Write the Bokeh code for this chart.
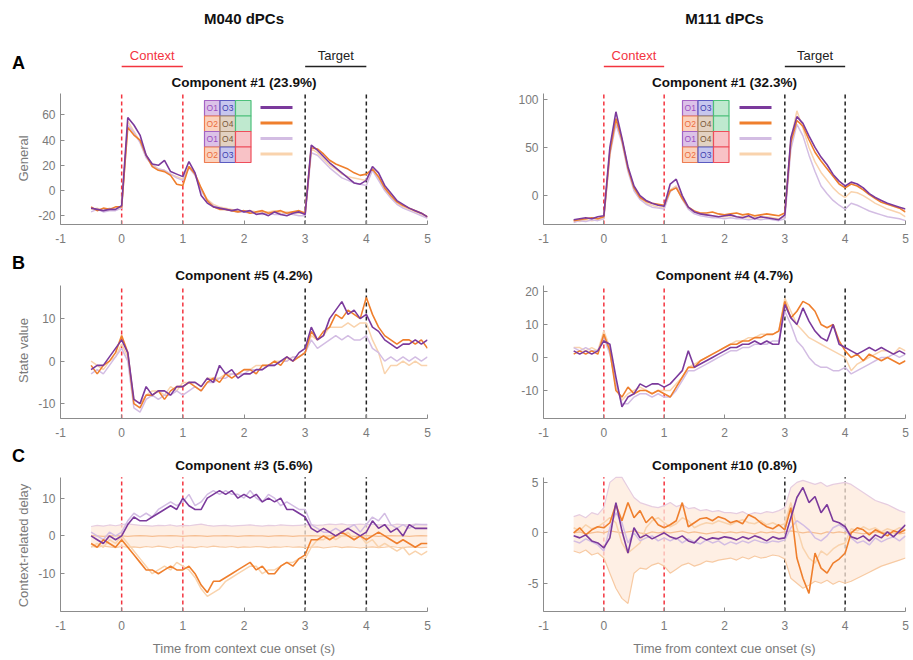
from bokeh.plotting import figure
from bokeh.layouts import column, row
from bokeh.models import Range1d, FixedTicker
from bokeh.embed import file_html
from bokeh.resources import INLINE
from bokeh.core.properties import value

# ---------------- data ----------------
T = [-0.5, -0.4, -0.3, -0.2, -0.1, 0.0, 0.1, 0.2, 0.3, 0.4, 0.5, 0.6, 0.7, 0.8, 0.9, 1.0,
     1.1, 1.2, 1.3, 1.4, 1.5, 1.6, 1.7, 1.8, 1.9, 2.0, 2.1, 2.2, 2.3, 2.4, 2.5, 2.6, 2.7, 2.8,
     2.9, 3.0, 3.1, 3.2, 3.3, 3.4, 3.5, 3.6, 3.7, 3.8, 3.9, 4.0, 4.1, 4.2, 4.3, 4.4, 4.5, 4.6,
     4.7, 4.8, 4.9, 5.0]
XTICKS = [-1, 0, 1, 2, 3, 4, 5]
CONTEXT_EVENTS = [0, 1]
TARGET_EVENTS = [3, 4]

# M040, Component #1 (General)
A1_DP = [-14, -15, -16, -15, -15, -12, 58, 52, 44, 28, 21, 20, 24, 15, 13, 11,
         23, 14, -4, -10, -13, -14, -15, -16, -15, -17, -16, -19, -18, -20, -17, -19, -20, -18, -17, -19,
         36, 32, 27, 22, 18, 14, 10, 6, 5, 8, 19, 14, 4, -2, -8, -11, -14, -16, -18, -21]
A1_OR = [-13, -16, -14, -15, -13, -13, 50, 44, 40, 28, 19, 16, 15, 12, 5, 4,
         19, 13, 2, -8, -13, -15, -15, -16, -17, -16, -18, -17, -16, -18, -17, -16, -18, -17, -16, -18,
         34, 33, 29, 24, 21, 19, 17, 14, 12, 13, 17, 11, 2, -4, -9, -12, -14, -16, -18, -21]
A1_LP = [-17, -15, -17, -16, -16, -14, 52, 46, 38, 26, 20, 17, 16, 13, 10, 8,
         18, 12, 0, -8, -12, -14, -15, -16, -17, -17, -18, -18, -19, -18, -19, -19, -18, -19, -20, -20,
         30, 28, 23, 18, 14, 10, 8, 6, 5, 4, 16, 8, 0, -6, -11, -14, -16, -18, -20, -22]
A1_LO = [-15, -14, -16, -14, -15, -13, 55, 47, 39, 27, 21, 17, 16, 13, 11, 9,
         19, 13, 1, -7, -11, -13, -14, -15, -16, -16, -16, -17, -17, -17, -16, -18, -17, -17, -18, -17,
         33, 30, 25, 20, 17, 13, 11, 10, 9, 8, 17, 9, 2, -5, -10, -13, -15, -17, -19, -21]

# M111, Component #1 (General)
A2_DP = [-25, -24, -23, -24, -22, -21, 50, 87, 60, 30, 10, 0, -5, -8, -10, -11,
         12, 17, 0, -12, -17, -19, -20, -21, -22, -21, -20, -22, -23, -21, -24, -22, -23, -24, -25, -20,
         60, 82, 75, 62, 50, 40, 32, 22, 15, 10, 14, 12, 8, 2, -2, -5, -8, -10, -12, -14]
A2_OR = [-26, -25, -24, -23, -24, -22, 45, 80, 58, 28, 8, -2, -6, -8, -9, -10,
         5, 8, -3, -12, -16, -18, -18, -17, -19, -20, -19, -18, -20, -19, -21, -20, -19, -20, -21, -18,
         55, 78, 72, 58, 45, 36, 28, 20, 12, 8, 12, 10, 6, 1, -3, -7, -9, -11, -13, -17]
A2_LP = [-28, -26, -27, -25, -26, -24, 42, 74, 55, 25, 5, -4, -9, -12, -13, -14,
         4, 9, -4, -14, -19, -21, -22, -23, -23, -24, -23, -24, -24, -25, -24, -25, -24, -25, -26, -24,
         48, 74, 62, 42, 25, 10, 2, -5, -10, -14, -8, -10, -13, -16, -18, -20, -22, -23, -24, -26]
A2_LO = [-26, -27, -25, -26, -25, -24, 44, 78, 57, 27, 7, -3, -8, -10, -12, -13,
         6, 10, -2, -13, -17, -19, -20, -21, -22, -22, -21, -22, -22, -23, -22, -23, -22, -23, -24, -22,
         58, 88, 70, 50, 35, 24, 16, 8, 2, -2, 4, 3, 0, -4, -8, -11, -14, -16, -18, -22]

# M040, Component #5 (State value)
B1_DP = [-2, -1, -1, 1, 3, 5, 2, -9, -10, -6, -8, -7, -7, -8, -6, -6,
         -5, -5, -6, -4, -5, -1, -3, -2, -4, -3, -3, -2, -2, -1, -1, 0, 1, 0, 2, 3,
         8, 5, 6, 10, 12, 14, 11, 12, 10, 11, 8, 7, 5, 4, 3, 4, 4, 5, 4, 5]
B1_OR = [-1, -3, -1, 0, 2, 6, 2, -10, -11, -8, -8, -7, -9, -7, -6, -6,
         -5, -6, -7, -5, -4, -5, -3, -4, -3, -2, -2, -3, -1, -1, 0, -1, 1, 0, 1, 2,
         7, 5, 7, 8, 11, 10, 12, 11, 10, 15, 11, 8, 6, 5, 4, 5, 5, 4, 5, 3]
B1_LP = [-3, -2, -3, -1, 1, 3, 0, -11, -12, -9, -8, -9, -8, -8, -7, -8,
         -7, -6, -7, -5, -5, -4, -4, -3, -3, -3, -2, -2, -2, -1, -1, 0, 0, 1, 1, 2,
         5, 3, 4, 5, 6, 5, 6, 5, 5, 6, 3, 2, 0, 1, 0, 1, 0, 1, 0, 1]
B1_LO = [0, -1, -2, 0, 1, 4, 1, -9, -10, -8, -7, -7, -8, -6, -7, -5,
         -5, -5, -6, -4, -4, -4, -3, -3, -3, -2, -2, -1, -1, -1, 0, 0, 0, 1, 1, 2,
         6, 5, 6, 8, 8, 8, 9, 8, 9, 9, 5, 2, -3, -1, -1, 0, -1, 0, -1, -1]

# M111, Component #4 (State value)
B2_DP = [2, 1, 2, 1, 2, 5, 4, -6, -15, -12, -11, -8, -9, -8, -8, -9,
         -8, -6, -4, 2, -3, -2, -1, 0, 1, 2, 3, 3, 4, 4, 5, 4, 5, 4, 4, 16,
         12, 10, 15, 11, 8, 6, 5, 10, 4, 3, 2, 1, 2, 3, 2, 3, 2, 1, 2, 1]
B2_OR = [1, 2, 1, 2, 1, 7, 2, -10, -12, -9, -11, -10, -10, -11, -10, -11,
         -12, -9, -6, -3, -3, -1, 0, 1, 2, 3, 4, 4, 5, 5, 6, 6, 7, 7, 8, 17,
         12, 14, 17, 16, 14, 10, 9, 10, 5, 2, 0, 1, -1, 1, 0, -1, 0, -1, -2, -1]
B2_LP = [3, 2, 3, 2, 2, 6, 1, -8, -14, -14, -12, -11, -11, -12, -11, -12,
         -12, -10, -7, -4, -4, -3, -2, -1, 0, 1, 2, 2, 3, 3, 4, 4, 4, 5, 5, 14,
         10, 5, 3, 0, -2, -3, -3, -4, -4, -3, -5, -4, -3, -2, -1, 0, 0, 1, 0, 1]
B2_LO = [3, 3, 2, 3, 2, 8, 3, -9, -13, -11, -10, -9, -10, -11, -10, -10,
         -10, -8, -6, -3, -2, -1, 0, 1, 2, 3, 4, 5, 5, 6, 6, 7, 7, 7, 8, 18,
         14, 10, 8, 6, 5, 4, 3, 2, 1, 0, -4, -2, -1, 0, 1, 2, 2, 1, 3, 2]

# M040, Component #3 (Context-related delay)
C1_DP = [0, -1, -2, 0, -1, 0, 3, 5, 4, 4, 5, 6, 7, 8, 7, 10,
         8, 7, 7, 10, 11, 12, 11, 12, 10, 11, 10, 11, 9, 10, 9, 10, 7, 7, 6, 5,
         2, 1, 2, 1, 0, 1, 2, 1, 0, 1, 4, 2, 3, 1, 2, 0, 3, 2, 2, 2]
C1_LP = [1, 0, -1, 1, 0, 1, 4, 6, 5, 6, 5, 7, 8, 9, 8, 9,
         11, 8, 9, 11, 12, 11, 12, 11, 11, 10, 12, 10, 9, 11, 10, 8, 9, 8, 7, 7,
         3, 2, 1, 1, 2, 1, 2, 3, 1, 3, 5, 4, 6, 3, 2, 3, 2, 3, 3, 3]
C1_OR = [-2, -3, -1, -2, -3, -1, -3, -5, -7, -9, -9, -10, -9, -8, -9, -9,
         -8, -10, -13, -15, -12, -12, -11, -10, -9, -8, -7, -9, -8, -10, -10, -8, -7, -8, -6, -5,
         -1, -1, 0, -1, 0, 1, 0, -1, 0, -1, 0, 1, 0, -1, -2, -1, -2, -3, -2, -2]
C1_LO = [-3, -2, -3, -1, -2, 0, -2, -4, -6, -8, -10, -9, -8, -9, -7, -8,
         -9, -11, -14, -16, -15, -14, -12, -11, -10, -9, -8, -8, -10, -9, -9, -8, -7, -7, -6, -6,
         -3, -1, -1, 0, -1, 0, 1, -1, 0, -2, -1, -3, -2, -3, -4, -3, -5, -4, -5, -4]
C1_BAND_HI = [2.5, 2.8, 2.6, 2.9, 2.7, 3.0, 3.2, 3.0, 2.8, 2.7, 2.6, 2.8, 2.7, 2.9, 2.6, 2.8,
              2.7, 2.9, 3.1, 2.8, 2.6, 2.7, 2.8, 2.6, 2.7, 2.8, 2.9, 2.7, 2.6, 2.8, 2.7, 2.9, 2.8, 2.7, 2.8, 2.9,
              3.0, 2.8, 2.9, 3.1, 3.0, 3.2, 2.9, 3.0, 3.1, 3.0, 3.1, 2.9, 3.0, 2.8, 3.1, 3.0, 2.9, 3.1, 3.0, 2.9]
C1_BAND_MID = [0.1, 0.0, -0.1, 0.0, 0.1, 0.0, -0.1, 0.0, 0.1, 0.0, -0.1, 0.0, 0.0, 0.1, 0.0, -0.1,
               0.0, 0.1, 0.0, -0.1, 0.0, 0.0, 0.1, 0.0, -0.1, 0.0, 0.1, 0.0, 0.0, -0.1, 0.0, 0.1, 0.0, -0.1, 0.0, 0.0,
               0.1, 0.0, -0.1, 0.0, 0.1, 0.0, 0.0, -0.1, 0.0, 0.1, 0.0, -0.1, 0.0, 0.1, 0.0, 0.0, -0.1, 0.0, 0.1, 0.0]
C1_BAND_LO = [-2.8, -3.0, -2.7, -2.9, -3.1, -2.8, -3.0, -2.9, -3.1, -2.8, -3.0, -2.7, -2.9, -3.2, -2.8, -3.0,
              -2.9, -3.1, -2.8, -3.0, -2.7, -2.9, -3.0, -2.8, -3.1, -2.9, -3.0, -2.8, -2.9, -3.1, -2.9, -3.0, -2.8, -3.0, -2.9, -3.1,
              -3.0, -2.9, -3.2, -3.0, -2.8, -3.1, -2.9, -3.0, -3.2, -3.0, -2.9, -3.1, -3.0, -2.8, -3.0, -3.1, -2.9, -3.0, -3.1, -3.0]

# M111, Component #10 (Context-related delay)
C2_DP = [-0.3, -0.5, -0.2, -0.8, -1.0, -1.5, -0.5, 3.0, 0.2, -2.0, 0.5, -0.5, -0.2, -0.6, -0.3, 0.0,
         -0.4, -0.6, -0.3, -0.8, -1.0, -0.4, -0.7, -0.5, -0.6, -0.4, -0.5, -0.7, -0.4, -0.6, -0.3, -0.5, -0.8, -0.4, -0.6, -0.5,
         1.5, 3.5, 4.5, 3.0, 3.6, 2.0, 2.8, 1.2, 1.0, 0.6, -0.4, -0.6, -0.3, -0.8, -0.2, -0.5, 0.1, -0.4, 0.2, 0.8]
C2_OR = [0.0, 0.5, -0.2, 0.3, 0.6, 0.5, 1.0, 2.8, 1.2, 3.0, 1.5, 2.2, 1.0, 1.6, 0.8, 0.5,
         0.8, 1.2, 3.0, 0.6, 1.0, 1.4, 1.5, 1.2, 1.6, 1.4, 1.0, 1.2, 0.9, 1.8, 1.5, 1.0, 0.6, 0.4, 0.8, 0.3,
         2.5, -2.5, -4.5, -6.0, -2.0, -3.5, -4.0, -3.0, -2.6, -2.0, 0.0, 0.5, 0.3, -0.2, 0.3, 0.0, -0.3, 0.2, 0.0, 0.3]
C2_LP = [-0.8, -1.0, -0.6, -0.9, -1.2, -1.8, 0.5, 2.0, 1.0, -1.0, 0.0, -0.8, -0.5, -0.3, -0.8, -0.5,
         -0.8, -0.5, -1.0, -0.6, -0.9, -1.1, -0.7, -1.0, -0.8, -1.2, -0.9, -1.1, -0.8, -1.0, -0.7, -0.9, -1.0, -0.8, -0.9, -0.7,
         0.5, 1.2, 0.8, 0.3, -0.5, -0.8, -0.3, 0.5, 0.8, 0.4, -0.5, -1.0, -0.8, -1.2, -0.5, -0.9, -0.6, -0.4, -0.8, -0.3]
C2_LO = [0.5, 0.2, 0.8, 0.4, 0.6, 1.0, 1.5, 1.0, -1.0, -2.0, -1.5, -1.0, 0.5, 1.2, 1.5, 1.0,
         0.6, 0.9, 1.5, 1.2, 0.5, 0.8, 1.0, 0.9, 1.2, 1.0, 0.8, 1.1, 1.3, 1.0, 0.9, 1.2, 0.8, 1.0, 0.7, 0.9,
         3.0, 0.5, -1.5, -2.5, -3.0, -1.8, -2.2, -1.6, -1.2, -1.0, 0.4, 0.2, 0.6, 0.3, 0.5, 0.1, 0.4, 0.2, 0.5, 0.3]
C2_BAND_HI = [1.6, 1.8, 1.5, 2.0, 1.8, 2.5, 5.0, 5.5, 5.5, 4.5, 3.5, 3.0, 2.8, 2.6, 2.5, 2.7,
              3.0, 2.6, 2.8, 2.4, 2.5, 2.2, 2.3, 2.1, 2.2, 2.0, 2.0, 1.9, 2.1, 1.8, 2.0, 1.9, 2.1, 2.0, 2.2, 2.5,
              4.5, 5.0, 5.2, 5.0, 4.8, 5.0, 4.6, 4.8, 4.9, 5.0, 4.8, 4.4, 4.0, 3.6, 3.2, 3.0, 2.8, 2.5, 2.2, 2.0]
C2_BAND_MID = [0.0, 0.1, -0.1, 0.0, 0.1, 0.0, 0.2, 0.1, 0.0, 0.1, 0.2, 0.0, -0.1, 0.1, 0.0, 0.1,
               0.0, 0.1, 0.2, 0.0, 0.1, 0.0, -0.1, 0.0, 0.1, 0.0, 0.1, 0.0, 0.1, 0.0, -0.1, 0.1, 0.0, 0.1, 0.0, 0.1,
               0.2, 0.1, 0.0, 0.1, 0.0, -0.1, 0.1, 0.0, 0.1, 0.0, 0.1, 0.0, -0.1, 0.0, 0.1, 0.0, 0.1, 0.0, -0.1, 0.0]
C2_BAND_LO = [-1.8, -2.0, -1.7, -2.2, -2.0, -2.5, -4.0, -5.5, -6.5, -7.0, -4.0, -3.5, -3.6, -3.2, -3.0, -3.3,
              -4.0, -3.6, -3.2, -3.0, -3.3, -3.1, -2.8, -2.9, -2.7, -2.6, -2.5, -2.7, -2.4, -2.6, -2.3, -2.5, -2.4, -2.2, -2.3, -2.6,
              -4.5, -5.0, -5.5, -5.2, -4.8, -5.0, -4.7, -5.1, -4.8, -5.0, -4.8, -4.5, -4.2, -3.9, -3.6, -3.3, -3.1, -2.9, -2.7, -2.5]

LEGEND_ROWS = [("O1", "O3", "same"), ("O2", "O4", "same"), ("O1", "O4", "diff"), ("O2", "O3", "diff")]

# ---------------- style / layout ----------------
FONT = "Liberation Sans"
C_DP, C_OR, C_LP, C_LO = "#7b3a9c", "#ef7f2d", "#d3bde3", "#f9d3ad"
AX = "#8c8c8c"
TXT = "#7a7a7a"
RED = "#f3343f"
BLK = "#222222"
CELL = {"O1": ("#dcc2e8", "#a463c4", "#9b4fc0"), "O2": ("#fbd2bd", "#ee7d52", "#ec6c3c"),
        "O3": ("#c6c6ee", "#5a5ac0", "#3e3eb0"), "O4": ("#e2d2c2", "#a48565", "#7a5a3a"),
        "same": ("#bfe9cf", "#4cc07a", None), "diff": ("#f8c2c6", "#ee4d5a", None)}

STRIP_W = 34
TOTAL_H = 658
COLS = [dict(width=454, mbl=26, mbr=61, fl=60, fr=427),
        dict(width=424, mbl=55, mbr=7, fl=543, fr=905)]
ROWS = [dict(height=258, page_top=0, ftop=2, fbot=224, axis_top=93),
        dict(height=192, page_top=258, ftop=262, fbot=418, axis_top=285),
        dict(height=208, page_top=450, ftop=454, fbot=612, axis_top=477)]


def fmt(v):
    return ("-" if v < 0 else "") + str(abs(v))


def panel(col, rw, lo, hi, yticks):
    c, r = COLS[col], ROWS[rw]
    fh = r["fbot"] - r["ftop"]
    ppu = (r["fbot"] - r["axis_top"]) / (hi - lo)
    top = lo + fh / ppu
    p = figure(width=c["width"], height=r["height"], x_range=Range1d(-1, 5), y_range=Range1d(lo, top),
               min_border_left=c["mbl"], min_border_right=c["mbr"],
               min_border_top=r["ftop"] - r["page_top"],
               min_border_bottom=r["page_top"] + r["height"] - r["fbot"],
               output_backend="svg", toolbar_location=None, title=None)
    p.outline_line_color = None
    p.grid.visible = False
    p.background_fill_color = "white"
    p.border_fill_color = "white"
    p.xaxis.ticker = FixedTicker(ticks=XTICKS)
    p.yaxis.ticker = FixedTicker(ticks=yticks)
    p.xaxis.major_label_overrides = {v: fmt(v) for v in XTICKS}
    p.yaxis.major_label_overrides = {v: fmt(v) for v in yticks}
    p.xaxis.bounds = (-1, 5)
    p.yaxis.bounds = (lo, hi)
    p.axis.axis_line_color = AX
    p.axis.major_tick_line_color = AX
    p.axis.minor_tick_line_color = None
    p.axis.major_tick_in = 4
    p.axis.major_tick_out = 0
    p.axis.major_label_text_color = TXT
    p.axis.major_label_text_font = FONT
    p.axis.major_label_text_font_size = "12px"
    p.xaxis.major_label_standoff = 9
    p.yaxis.major_label_standoff = 5

    def vy(py):
        return lo + (r["fbot"] - py) / ppu

    def vx(px):
        return -1 + (px - c["fl"]) * 6.0 / (c["fr"] - c["fl"])

    p.segment(x0=CONTEXT_EVENTS, y0=lo, x1=CONTEXT_EVENTS, y1=hi, line_color=RED,
              line_dash="4 3", line_width=1.5)
    p.segment(x0=TARGET_EVENTS, y0=lo, x1=TARGET_EVENTS, y1=hi, line_color=BLK,
              line_dash="4 3", line_width=1.5)
    return p, vx, vy


def traces(p, dp, orr, lp, lo_):
    for arr in (dp, orr, lp, lo_):
        assert len(arr) == len(T), len(arr)
    p.line(T, lo_, line_color=C_LO, line_width=1.5)
    p.line(T, lp, line_color=C_LP, line_width=1.5)
    p.line(T, orr, line_color=C_OR, line_width=1.6)
    p.line(T, dp, line_color=C_DP, line_width=1.6)


def band(p, hi_, mid, lo_):
    p.varea(x=T, y1=lo_, y2=hi_, fill_color="#fdeadb", fill_alpha=0.75)
    p.line(T, hi_, line_color="#e6cde0", line_width=1.2)
    p.line(T, lo_, line_color="#f7caa3", line_width=1.2)
    p.line(T, mid, line_color="#f6bf93", line_width=1.2)


def ctitle(p, vy, py, text):
    p.text(x=[2], y=[vy(py)], text=[text], text_align="center", text_baseline="middle",
           text_font=value(FONT), text_font_style="bold", text_font_size="13.5px", text_color="#111111")


def legend(p, vx, vy, left_px, line_px):
    cw = 15.5
    for i, (a, b, k) in enumerate(LEGEND_ROWS):
        ty, by = 100 + i * cw, 100 + (i + 1) * cw
        for j, key in enumerate((a, b, k)):
            fill, edge, tc = CELL[key]
            lx, rx = left_px + j * cw, left_px + (j + 1) * cw
            p.quad(left=[vx(lx)], right=[vx(rx)], top=[vy(ty)], bottom=[vy(by)],
                   fill_color=fill, line_color=edge, line_width=1.2)
            if tc:
                p.text(x=[vx((lx + rx) / 2)], y=[vy((ty + by) / 2)], text=[key], text_align="center",
                       text_baseline="middle", text_font=value(FONT), text_font_size="8.5px", text_color=tc)
    for i, colr in enumerate((C_DP, C_OR, C_LP, C_LO)):
        yy = vy(107 + i * 15.5)
        p.segment(x0=[vx(line_px)], y0=[yy], x1=[vx(line_px + 32)], y1=[yy], line_color=colr, line_width=3)


def header(p, vy, name):
    p.text(x=[2], y=[vy(18)], text=[name], text_align="center", text_baseline="middle",
           text_font=value(FONT), text_font_style="bold", text_font_size="15px", text_color="#111111")
    p.text(x=[0.5], y=[vy(55)], text=["Context"], text_align="center", text_baseline="middle",
           text_font=value(FONT), text_font_size="13px", text_color=RED)
    p.segment(x0=[0], y0=[vy(66)], x1=[1], y1=[vy(66)], line_color=RED, line_width=1.5)
    p.text(x=[3.5], y=[vy(55)], text=["Target"], text_align="center", text_baseline="middle",
           text_font=value(FONT), text_font_size="13px", text_color=BLK)
    p.segment(x0=[3], y0=[vy(66)], x1=[4], y1=[vy(66)], line_color=BLK, line_width=1.5)


# Left strip with panel letters and y-axis titles
strip = figure(width=STRIP_W, height=TOTAL_H, x_range=Range1d(0, STRIP_W), y_range=Range1d(TOTAL_H, 0),
               min_border=0, x_axis_type=None, y_axis_type=None, output_backend="svg",
               toolbar_location=None, title=None)
strip.outline_line_color = None
strip.grid.visible = False
strip.text(x=[18, 18, 18], y=[62, 262, 455], text=["A", "B", "C"], text_align="center",
           text_baseline="middle", text_font=value(FONT), text_font_style="bold",
           text_font_size="18px", text_color="#000000")
strip.text(x=[23, 23, 23], y=[158, 350, 545], text=["General", "State value", "Context-related delay"],
           angle=1.5708, text_align="center", text_baseline="middle", text_font=value(FONT),
           text_font_size="13px", text_color=TXT)

# Row A
pA1, vxA1, vyA1 = panel(0, 0, -27, 77, [-20, 0, 20, 40, 60])
header(pA1, vyA1, "M040 dPCs")
ctitle(pA1, vyA1, 82, "Component #1 (23.9%)")
traces(pA1, A1_DP, A1_OR, A1_LP, A1_LO)
legend(pA1, vxA1, vyA1, 204, 260)

pA2, vxA2, vyA2 = panel(1, 0, -30, 106, [0, 50, 100])
header(pA2, vyA2, "M111 dPCs")
ctitle(pA2, vyA2, 82, "Component #1 (32.3%)")
traces(pA2, A2_DP, A2_OR, A2_LP, A2_LO)
legend(pA2, vxA2, vyA2, 682, 739)

# Row B
pB1, vxB1, vyB1 = panel(0, 1, -13.5, 17.8, [-10, 0, 10])
ctitle(pB1, vyB1, 275, "Component #5 (4.2%)")
traces(pB1, B1_DP, B1_OR, B1_LP, B1_LO)

pB2, vxB2, vyB2 = panel(1, 1, -18.5, 21.8, [-10, 0, 10, 20])
ctitle(pB2, vyB2, 275, "Component #4 (4.7%)")
traces(pB2, B2_DP, B2_OR, B2_LP, B2_LO)

# Row C
pC1, vxC1, vyC1 = panel(0, 2, -20, 15.5, [-10, 0, 10])
ctitle(pC1, vyC1, 465, "Component #3 (5.6%)")
band(pC1, C1_BAND_HI, C1_BAND_MID, C1_BAND_LO)
traces(pC1, C1_DP, C1_OR, C1_LP, C1_LO)

pC2, vxC2, vyC2 = panel(1, 2, -7.8, 5.5, [-5, 0, 5])
ctitle(pC2, vyC2, 465, "Component #10 (0.8%)")
band(pC2, C2_BAND_HI, C2_BAND_MID, C2_BAND_LO)
traces(pC2, C2_DP, C2_OR, C2_LP, C2_LO)

for p in (pC1, pC2):
    p.xaxis.axis_label = "Time from context cue onset (s)"
    p.xaxis.axis_label_text_font = FONT
    p.xaxis.axis_label_text_font_style = "normal"
    p.xaxis.axis_label_text_font_size = "13px"
    p.xaxis.axis_label_text_color = TXT
    p.xaxis.axis_label_standoff = 8

layout = row(strip, column(pA1, pB1, pC1), column(pA2, pB2, pC2))
open("out.html", "w").write(file_html(layout, INLINE))
